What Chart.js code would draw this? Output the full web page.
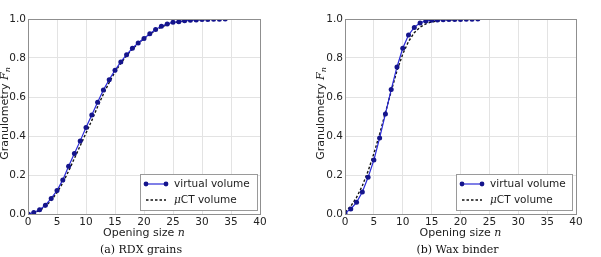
<!DOCTYPE html>
<html>
<head>
<meta charset="utf-8">
<script src="https://cdn.jsdelivr.net/npm/chart.js@4"></script>
<style>
html, body { margin: 0; padding: 0; background: #fff; }
#wrap { position: relative; width: 601px; height: 257px; }
.panel { position: absolute; top: 0; height: 257px; }
</style>
</head>
<body>
<div id="wrap">
  <div class="panel" style="left:0;width:300px"><canvas id="rdx" width="300" height="257"></canvas></div>
  <div class="panel" style="left:300px;width:301px"><canvas id="wax" width="301" height="257"></canvas></div>
</div>
<script>
// (a) RDX grains
const rdxSize = [0, 1, 2, 3, 4, 5, 6, 7, 8, 9, 10, 11, 12, 13, 14, 15, 16, 17, 18, 19, 20, 21, 22, 23, 24, 25, 26, 27, 28, 29, 30, 31, 32, 33, 34];
const rdxVirtual = [0.0, 0.008, 0.022, 0.045, 0.08, 0.12, 0.175, 0.245, 0.31, 0.375, 0.443, 0.508, 0.573, 0.636, 0.689, 0.737, 0.78, 0.817, 0.85, 0.877, 0.9, 0.924, 0.946, 0.963, 0.975, 0.983, 0.986, 0.991, 0.993, 0.995, 0.997, 0.998, 0.999, 0.999, 1.0];
const rdxCTSize = [0, 1, 2, 3, 4, 5, 6, 7, 8, 9, 10, 11, 12, 13, 14, 15, 16, 17, 18, 19, 20, 21, 22, 23, 24, 25, 26, 27, 28, 29, 30, 31, 32, 33, 34, 35, 36, 37];
const rdxCT = [0.0, 0.006, 0.018, 0.038, 0.07, 0.11, 0.16, 0.22, 0.285, 0.35, 0.415, 0.48, 0.55, 0.615, 0.675, 0.728, 0.773, 0.812, 0.846, 0.875, 0.9, 0.922, 0.942, 0.958, 0.971, 0.98, 0.986, 0.99, 0.993, 0.995, 0.997, 0.998, 0.999, 0.999, 1.0, 1.0, 1.0, 1.0];

// (b) Wax binder
const waxSize = [0, 1, 2, 3, 4, 5, 6, 7, 8, 9, 10, 11, 12, 13, 14, 15, 16, 17, 18, 19, 20, 21, 22, 23];
const waxVirtual = [0.005, 0.026, 0.06, 0.113, 0.188, 0.277, 0.39, 0.513, 0.638, 0.754, 0.85, 0.918, 0.957, 0.98, 0.99, 0.993, 0.995, 0.996, 0.997, 0.998, 0.998, 0.999, 0.999, 1.0];
const waxCTSize = [0, 1, 2, 3, 4, 5, 6, 7, 8, 9, 10, 11, 12, 13, 14, 15, 16, 17, 18, 19, 20, 21, 22, 23, 24, 25, 26, 27, 28];
const waxCT = [0.01, 0.04, 0.085, 0.145, 0.22, 0.31, 0.41, 0.52, 0.63, 0.735, 0.82, 0.885, 0.93, 0.958, 0.975, 0.985, 0.99, 0.993, 0.995, 0.997, 0.998, 0.998, 0.999, 0.999, 1.0, 1.0, 1.0, 1.0, 1.0];

const xTicks = [0, 5, 10, 15, 20, 25, 30, 35, 40];
const yTicks = [0.0, 0.2, 0.4, 0.6, 0.8, 1.0];
const seriesNames = ['virtual volume', 'CT volume'];

const SANS = '"DejaVu Sans", sans-serif';
const SERIF = '"DejaVu Serif", serif';
const TEXT = '#222';

function pts(xs, ys) {
    return xs.map((x, i) => ({ x: x, y: ys[i] }));
}

// frame, legend inside the plot, axis titles with italic symbols, caption
const decor = {
    id: 'decor',
    afterDraw(chart, args, opts) {
        const ctx = chart.ctx;
        const a = chart.chartArea;
        ctx.save();

        // box round the plot
        ctx.strokeStyle = '#8f8f8f';
        ctx.lineWidth = 1;
        ctx.strokeRect(Math.round(a.left) + 0.5, Math.round(a.top) + 0.5,
            Math.round(a.right) - Math.round(a.left), Math.round(a.bottom) - Math.round(a.top));

        // legend
        const bw = opts.legendW, bh = 36;
        const bx = Math.round(a.right) - opts.legendInset - bw;
        const by = Math.round(a.bottom) - 4 - bh;
        ctx.fillStyle = '#fff';
        ctx.fillRect(bx, by, bw, bh);
        ctx.strokeStyle = '#9a9a9a';
        ctx.strokeRect(bx + 0.5, by + 0.5, bw, bh);
        const sx = bx + 6, sw = 20;
        const y1 = by + 10, y2 = by + 26;
        ctx.strokeStyle = '#2a2ad8';
        ctx.lineWidth = 1.2;
        ctx.beginPath(); ctx.moveTo(sx, y1); ctx.lineTo(sx + sw, y1); ctx.stroke();
        ctx.fillStyle = '#14148c';
        [sx, sx + sw].forEach(px => { ctx.beginPath(); ctx.arc(px, y1, 2.4, 0, Math.PI * 2); ctx.fill(); });
        ctx.strokeStyle = '#111';
        ctx.lineWidth = 1.3;
        ctx.setLineDash([2.5, 2]);
        ctx.beginPath(); ctx.moveTo(sx, y2); ctx.lineTo(sx + sw, y2); ctx.stroke();
        ctx.setLineDash([]);
        ctx.fillStyle = TEXT;
        ctx.textBaseline = 'middle';
        ctx.textAlign = 'left';
        ctx.font = '10.5px ' + SANS;
        const tx = sx + sw + 8;
        ctx.fillText(seriesNames[0], tx, y1);
        ctx.font = 'italic 10.5px ' + SERIF;
        ctx.fillText('\u03bc', tx, y2);
        const mw = ctx.measureText('\u03bc').width;
        ctx.font = '10.5px ' + SANS;
        ctx.fillText(seriesNames[1], tx + mw, y2);

        // x title: Opening size n
        ctx.textBaseline = 'alphabetic';
        ctx.font = '11px ' + SANS;
        const part1 = 'Opening size ';
        const w1 = ctx.measureText(part1).width;
        ctx.font = 'italic 11px ' + SERIF;
        const w2 = ctx.measureText('n').width;
        let x0 = (a.left + a.right) / 2 - (w1 + w2) / 2;
        ctx.font = '11px ' + SANS;
        ctx.fillText(part1, x0, 236);
        ctx.font = 'italic 11px ' + SERIF;
        ctx.fillText('n', x0 + w1, 236);

        // y title: Granulometry F_n
        ctx.save();
        ctx.translate(opts.yTitleX, (a.top + a.bottom) / 2 - 3);
        ctx.rotate(-Math.PI / 2);
        ctx.font = '11px ' + SANS;
        const g = 'Granulometry ';
        const gw = ctx.measureText(g).width;
        ctx.font = 'italic 11px ' + SERIF;
        const fw = ctx.measureText('F').width;
        ctx.font = 'italic 8px ' + SERIF;
        const nw = ctx.measureText('n').width;
        let y0 = -(gw + fw + nw) / 2;
        ctx.textBaseline = 'middle';
        ctx.font = '11px ' + SANS;
        ctx.fillText(g, y0, 0);
        ctx.font = 'italic 11px ' + SERIF;
        ctx.fillText('F', y0 + gw, 0);
        ctx.font = 'italic 8px ' + SERIF;
        ctx.fillText('n', y0 + gw + fw, 3);
        ctx.restore();

        // caption
        ctx.fillStyle = '#111';
        ctx.textAlign = 'center';
        ctx.textBaseline = 'middle';
        ctx.font = '11px ' + SERIF;
        ctx.fillText(opts.caption, (a.left + a.right) / 2 - 3, 250);

        ctx.restore();
    }
};

function makeChart(id, virtX, virtY, ctX, ctY, layout) {
    const ctx = document.getElementById(id).getContext('2d');
    return new Chart(ctx, {
        type: 'line',
        data: {
            datasets: [
                {
                    label: seriesNames[0],
                    data: pts(virtX, virtY),
                    borderColor: '#2a2ad8',
                    backgroundColor: '#14148c',
                    pointBackgroundColor: '#14148c',
                    pointBorderWidth: 0,
                    borderWidth: 1.2,
                    pointRadius: 2.5,
                    tension: 0,
                    order: 1
                },
                {
                    label: seriesNames[1],
                    data: pts(ctX, ctY),
                    borderColor: '#111',
                    borderDash: [2.5, 2],
                    borderWidth: 1.4,
                    pointRadius: 0,
                    tension: 0,
                    order: 2
                }
            ]
        },
        options: {
            responsive: false,
            animation: false,
            events: [],
            layout: { padding: { top: 19, right: layout.right, bottom: 0, left: 0 } },
            plugins: {
                legend: { display: false },
                tooltip: { enabled: false },
                decor: { caption: layout.caption, yTitleX: layout.yTitleX, legendW: layout.legendW, legendInset: layout.legendInset }
            },
            scales: {
                x: {
                    type: 'linear',
                    min: 0, max: 40,
                    afterFit: s => { s.height = 43; },
                    afterBuildTicks: s => { s.ticks = xTicks.map(v => ({ value: v })); },
                    grid: { color: '#e3e3e3', drawTicks: false },
                    border: { display: false },
                    ticks: { color: TEXT, font: { family: SANS, size: 10.5 }, padding: 2, maxRotation: 0 }
                },
                y: {
                    min: 0, max: 1,
                    afterFit: s => { s.width = layout.yWidth; },
                    afterBuildTicks: s => { s.ticks = yTicks.map(v => ({ value: v })); },
                    grid: { color: '#e3e3e3', drawTicks: false },
                    border: { display: false },
                    ticks: { color: TEXT, font: { family: SANS, size: 10.5 }, padding: 2, callback: v => v.toFixed(1) }
                }
            }
        },
        plugins: [decor]
    });
}

makeChart('rdx', rdxSize, rdxVirtual, rdxCTSize, rdxCT,
    { right: 40, yWidth: 28, yTitleX: 5, caption: '(a) RDX grains', legendW: 117, legendInset: 3 });
makeChart('wax', waxSize, waxVirtual, waxCTSize, waxCT,
    { right: 25, yWidth: 45, yTitleX: 21, caption: '(b) Wax binder', legendW: 116, legendInset: 4 });
</script>
</body>
</html>
